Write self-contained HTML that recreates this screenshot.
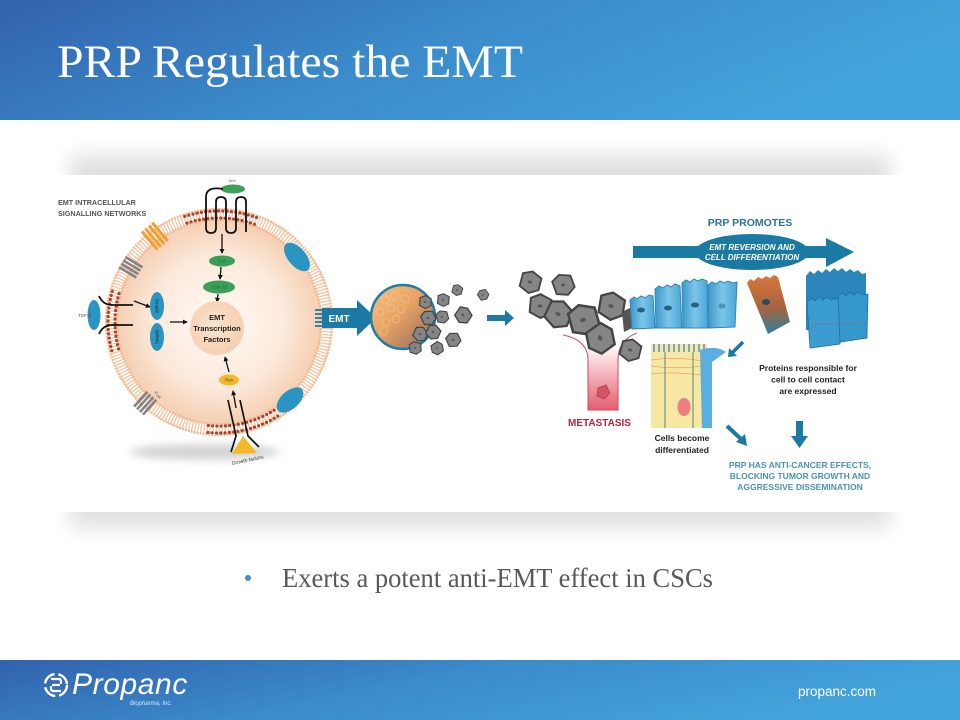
<!DOCTYPE html>
<html><head><meta charset="utf-8"><style>
html,body{margin:0;padding:0;background:#fff;}
body{width:960px;height:720px;overflow:hidden;}
svg{display:block;}
</style></head><body>
<svg width="960" height="720" viewBox="0 0 960 720" xmlns="http://www.w3.org/2000/svg" font-family="Liberation Sans, sans-serif">
<defs>
 <linearGradient id="hg" x1="0" y1="0" x2="1" y2="0.3">
  <stop offset="0" stop-color="#3262ad"/>
  <stop offset="0.5" stop-color="#3b8bcb"/>
  <stop offset="1" stop-color="#43a3db"/>
 </linearGradient>
 <filter id="b10" x="-20%" y="-20%" width="140%" height="140%"><feGaussianBlur stdDeviation="10"/></filter>
 <filter id="b4" x="-30%" y="-100%" width="160%" height="300%"><feGaussianBlur stdDeviation="4"/></filter>
 <radialGradient id="cg" cx="0.5" cy="0.5" r="0.5">
  <stop offset="0" stop-color="#fffaf6"/>
  <stop offset="0.65" stop-color="#fce9db"/>
  <stop offset="1" stop-color="#f5cfb2"/>
 </radialGradient>
 <radialGradient id="ng" cx="0.45" cy="0.45" r="0.55">
  <stop offset="0" stop-color="#fbe3cf"/>
  <stop offset="1" stop-color="#f6d0b1"/>
 </radialGradient>
 <linearGradient id="tg" x1="0" y1="0" x2="1" y2="1">
  <stop offset="0" stop-color="#f6c285"/>
  <stop offset="0.45" stop-color="#e9a262"/>
  <stop offset="0.75" stop-color="#b08263"/>
  <stop offset="1" stop-color="#808080"/>
 </linearGradient>
 <linearGradient id="vg" x1="0" y1="0" x2="0" y2="1">
  <stop offset="0" stop-color="#fff0f2"/>
  <stop offset="1" stop-color="#e25d70"/>
 </linearGradient>
 <linearGradient id="og" x1="0" y1="0" x2="0" y2="1">
  <stop offset="0" stop-color="#d9773a"/>
  <stop offset="0.55" stop-color="#a8643f"/>
  <stop offset="1" stop-color="#2d7fa2"/>
 </linearGradient>
 <linearGradient id="lb" x1="0" y1="0" x2="1" y2="0">
  <stop offset="0" stop-color="#3d98c9"/>
  <stop offset="0.5" stop-color="#7cc6ea"/>
  <stop offset="1" stop-color="#4aa5d4"/>
 </linearGradient>
 <marker id="ah" viewBox="0 0 6 6" markerWidth="5" markerHeight="5" refX="5" refY="3" orient="auto" markerUnits="userSpaceOnUse">
  <path d="M0,0 L6,3 L0,6 z" fill="#111"/>
 </marker>
 <g id="gc">
  <polygon points="-8,-5 -1,-9 8,-6 9,4 2,9 -7,6" fill="#858585" stroke="#444" stroke-width="1.5"/>
  <ellipse cx="0" cy="0" rx="1.8" ry="1.2" fill="#555"/>
 </g>
</defs>

<!-- header -->
<rect x="0" y="0" width="960" height="120" fill="url(#hg)"/>
<text x="57" y="77" font-family="Liberation Serif, serif" font-size="47" fill="#fff" textLength="466" lengthAdjust="spacingAndGlyphs">PRP Regulates the EMT</text>

<!-- panel with shadow -->
<rect x="70" y="155" width="820" height="373" fill="#000" opacity="0.12" filter="url(#b10)"/>
<rect x="38" y="175" width="874" height="337" fill="#fff"/>

<!-- LEFT: cell -->
<text x="58" y="205" font-size="7.2" font-weight="bold" fill="#555">EMT INTRACELLULAR</text>
<text x="58" y="216" font-size="7.2" font-weight="bold" fill="#555">SIGNALLING NETWORKS</text>

<ellipse cx="205" cy="452" rx="75" ry="8" fill="#aaa" opacity="0.5" filter="url(#b4)"/>
<circle cx="219" cy="322" r="102" fill="url(#cg)"/>
<circle cx="219" cy="322" r="107.5" fill="none" stroke="#f4c4a0" stroke-width="11" stroke-dasharray="1.3 1.7"/>
<circle cx="219" cy="322" r="113" fill="none" stroke="#f1b78e" stroke-width="2.2" stroke-dasharray="2 1"/>
<circle cx="219" cy="322" r="102" fill="none" stroke="#f1b78e" stroke-width="2.2" stroke-dasharray="2 1"/>

<!-- brown dots -->
<g fill="none" stroke="#a9432f" stroke-width="3.2" stroke-linecap="round" stroke-dasharray="0 4.3">
 <path d="M186.9,223.1 A104,104 0 0 1 254.6,224.3"/>
 <path d="M184.7,216.4 A111,111 0 0 1 257.0,217.7"/>
 <path d="M118.5,348.9 A104,104 0 0 1 120.1,289.9"/>
 <path d="M111.8,350.7 A111,111 0 0 1 113.4,287.7"/>
 <path d="M274.1,410.2 A104,104 0 0 1 206.3,425.3"/>
 <path d="M277.8,416.1 A111,111 0 0 1 205.5,432.2"/>
</g>

<!-- receptors -->
<g transform="translate(155,236) rotate(50)" fill="#f0a032">
 <rect x="-12" y="-8" width="24" height="3"/><rect x="-12" y="-3.5" width="24" height="3"/>
 <rect x="-12" y="1" width="24" height="3"/><rect x="-12" y="5.5" width="24" height="3"/>
</g>
<g transform="translate(131,267) rotate(31)" fill="#858585">
 <rect x="-10" y="-7" width="20" height="2.6"/><rect x="-10" y="-3" width="20" height="2.6"/>
 <rect x="-10" y="1" width="20" height="2.6"/><rect x="-10" y="5" width="20" height="2.6"/>
</g>
<g transform="translate(145,403) rotate(-48)" fill="#858585">
 <rect x="-10" y="-7" width="20" height="2.6"/><rect x="-10" y="-3" width="20" height="2.6"/>
 <rect x="-10" y="1" width="20" height="2.6"/><rect x="-10" y="5" width="20" height="2.6"/>
</g>
<text x="0" y="0" font-size="4.5" fill="#555" transform="translate(154,393) rotate(50)">Fzd</text>

<ellipse cx="297" cy="257" rx="17" ry="9" fill="#2b95c2" transform="rotate(50 297 257)"/>
<ellipse cx="290" cy="400" rx="16" ry="9" fill="#2b95c2" transform="rotate(-42 290 400)"/>

<!-- Wnt -->
<ellipse cx="233" cy="189" rx="12" ry="4.5" fill="#3c9e58"/>
<text x="232" y="182" font-size="4" fill="#666" text-anchor="middle">Wnt</text>
<path d="M223,189 Q206,186 206,197 L206,228 Q206,233 211,233 Q216,233 216,228 L216,202 Q216,197 221,197 Q226,197 226,202 L226,228 Q226,233 231,233 Q236,233 236,228 L236,202 Q236,197 241,197 Q246,197 246,202 L246,232" fill="none" stroke="#111" stroke-width="1.8"/>
<path d="M222,234 L222,253" stroke="#111" stroke-width="1.3" marker-end="url(#ah)"/>
<ellipse cx="222" cy="261" rx="13" ry="5.5" fill="#3c9e58"/>
<text x="222" y="262.6" font-size="4.5" fill="#173" text-anchor="middle">Dsh</text>
<path d="M221,267 L220,279" stroke="#111" stroke-width="1.3" marker-end="url(#ah)"/>
<ellipse cx="219" cy="287" rx="16" ry="6.5" fill="#3c9e58"/>
<text x="219" y="288.6" font-size="4.5" fill="#173" text-anchor="middle">GSK-3β</text>
<path d="M218,294 L217,302" stroke="#111" stroke-width="1.3" marker-end="url(#ah)"/>

<!-- nucleus -->
<circle cx="217" cy="328" r="27" fill="url(#ng)"/>
<g font-size="7.5" font-weight="bold" fill="#222" text-anchor="middle">
 <text x="217" y="320">EMT</text>
 <text x="217" y="331">Transcription</text>
 <text x="217" y="342">Factors</text>
</g>

<!-- TGF / Smad -->
<ellipse cx="94" cy="315" rx="6.5" ry="15" fill="#2b95c2"/>
<text x="78" y="317" font-size="4.5" fill="#444">TGF-β</text>
<path d="M99,296 Q103,305 112,305 L133,305" fill="none" stroke="#111" stroke-width="1.7"/>
<path d="M99,334 Q103,325 112,325 L133,325" fill="none" stroke="#111" stroke-width="1.7"/>
<path d="M134,301 L150,307" stroke="#111" stroke-width="1.3" marker-end="url(#ah)"/>
<ellipse cx="157" cy="306" rx="7" ry="14" fill="#2b95c2"/>
<ellipse cx="157" cy="337" rx="7" ry="14" fill="#2b95c2"/>
<text x="0" y="0" font-size="4.5" fill="#123" text-anchor="middle" transform="translate(155.5,306) rotate(90)">Smad2</text>
<text x="0" y="0" font-size="4.5" fill="#123" text-anchor="middle" transform="translate(158.5,337) rotate(-90)">Smad3</text>
<path d="M170,322 L187,322" stroke="#111" stroke-width="1.3" marker-end="url(#ah)"/>

<!-- Ras / growth -->
<path d="M229,372 L225,357" stroke="#111" stroke-width="1.3" marker-end="url(#ah)"/>
<ellipse cx="229" cy="380" rx="10" ry="5.5" fill="#f3b928"/>
<text x="229" y="381.6" font-size="4.5" fill="#553" text-anchor="middle">Ras</text>
<path d="M236,408 L233,391" stroke="#111" stroke-width="1.3" marker-end="url(#ah)"/>
<path d="M228,400 L236,436 L231,452" fill="none" stroke="#111" stroke-width="1.7"/>
<path d="M240,400 L248,436 L259,447" fill="none" stroke="#111" stroke-width="1.7"/>
<polygon points="243,436 232,454 257,453" fill="#f3b928"/>
<text x="0" y="0" font-size="5" fill="#333" transform="translate(232,465) rotate(-12)">Growth factors</text>

<!-- EMT arrow -->
<g stroke="#1b7aa3" stroke-width="1.8">
 <line x1="315" y1="310" x2="333" y2="310"/><line x1="315" y1="314" x2="333" y2="314"/>
 <line x1="315" y1="318" x2="333" y2="318"/><line x1="315" y1="322" x2="333" y2="322"/>
 <line x1="315" y1="326" x2="333" y2="326"/>
</g>
<polygon points="322,308 357,308 357,300 376,318 357,336 357,328 322,328" fill="#1b7aa3"/>
<text x="339" y="322" font-size="10" font-weight="bold" fill="#fff" text-anchor="middle">EMT</text>

<!-- tumor -->
<circle cx="403" cy="317" r="32" fill="url(#tg)" stroke="#1d7fa5" stroke-width="2.5"/>
<g fill="none" stroke="#f8d2a4" stroke-width="0.6" opacity="0.8">
 <circle cx="385" cy="300" r="4"/><circle cx="395" cy="296" r="4"/><circle cx="405" cy="299" r="4"/>
 <circle cx="380" cy="312" r="4"/><circle cx="391" cy="308" r="4"/><circle cx="401" cy="309" r="4"/>
 <circle cx="386" cy="322" r="4"/><circle cx="396" cy="319" r="4"/><circle cx="384" cy="331" r="4"/>
</g>
<g>
 <use href="#gc" transform="translate(425,302) rotate(10) scale(0.7)"/>
 <use href="#gc" transform="translate(428,318) rotate(-20) scale(0.8)"/>
 <use href="#gc" transform="translate(420,334) rotate(30) scale(0.8)"/>
 <use href="#gc" transform="translate(415,348) rotate(0) scale(0.7)"/>
 <use href="#gc" transform="translate(457,290) rotate(20) scale(0.6)"/>
 <use href="#gc" transform="translate(483,295) rotate(-30) scale(0.6)"/>
 <use href="#gc" transform="translate(443,300) rotate(10) scale(0.7)"/>
 <use href="#gc" transform="translate(463,315) rotate(40) scale(0.9)"/>
 <use href="#gc" transform="translate(442,317) rotate(-10) scale(0.7)"/>
 <use href="#gc" transform="translate(433,332) rotate(30) scale(0.8)"/>
 <use href="#gc" transform="translate(453,340) rotate(-20) scale(0.8)"/>
 <use href="#gc" transform="translate(437,348) rotate(60) scale(0.7)"/>
</g>
<polygon points="487,315 505,315 505,310 514,318 505,326 505,321 487,321" fill="#1b7aa3"/>

<!-- vessel -->
<rect x="588" y="350" width="30" height="60" fill="url(#vg)"/>
<path d="M563,335 Q588,340 588,360 L588,410 L618,410 L618,360 Q618,340 637,333" fill="none" stroke="#c94a5c" stroke-width="1"/>
<polygon points="598,388 606,385 610,393 604,399 597,396" fill="#d35566" stroke="#b03a4c" stroke-width="0.8"/>
<text x="568" y="426" font-size="10" font-weight="bold" fill="#b5253f">METASTASIS</text>

<!-- gray cluster -->
<g>
 <use href="#gc" transform="translate(530,282) rotate(20) scale(1.2)"/>
 <use href="#gc" transform="translate(563,285) rotate(-15) scale(1.2)"/>
 <use href="#gc" transform="translate(540,306) rotate(10) scale(1.3)"/>
 <use href="#gc" transform="translate(558,314) rotate(30) scale(1.5)"/>
 <use href="#gc" transform="translate(583,320) rotate(-10) scale(1.7)"/>
 <use href="#gc" transform="translate(611,306) rotate(15) scale(1.5)"/>
 <use href="#gc" transform="translate(600,338) rotate(60) scale(1.6)"/>
 <use href="#gc" transform="translate(630,350) rotate(20) scale(1.2)"/>
</g>

<!-- RIGHT -->
<text x="750" y="226" font-size="10.5" font-weight="bold" fill="#2d7396" text-anchor="middle">PRP PROMOTES</text>
<rect x="633" y="246" width="197" height="12" fill="#1b7aa3"/>
<ellipse cx="752" cy="252" rx="57" ry="18" fill="#1b7aa3"/>
<polygon points="826,238 854,252 826,267" fill="#1b7aa3"/>
<text x="752" y="250" font-size="8" font-weight="bold" font-style="italic" fill="#fff" text-anchor="middle">EMT REVERSION AND</text>
<text x="752" y="260" font-size="8" font-weight="bold" font-style="italic" fill="#fff" text-anchor="middle">CELL DIFFERENTIATION</text>

<!-- light blue cells -->
<path d="M622,312 L630,308 L632,328 L624,332 Z" fill="#555"/>
<path d="M630,300 L634,297 637,299 641,296 645,298 649,295 653,296 655,328 L632,329 Z" fill="url(#lb)" stroke="#2f86b8" stroke-width="1"/>
<path d="M655,289 L659,286 663,288 667,285 671,287 675,284 680,286 682,328 L656,328 Z" fill="url(#lb)" stroke="#2f86b8" stroke-width="1"/>
<path d="M682,283 L686,280 690,282 694,279 698,281 702,279 707,281 708,328 L683,328 Z" fill="url(#lb)" stroke="#2f86b8" stroke-width="1"/>
<path d="M708,285 L712,282 716,284 720,281 724,283 728,281 733,283 737,282 735,327 L709,328 Z" fill="url(#lb)" stroke="#2f86b8" stroke-width="1"/>
<g fill="#2a5f80">
 <ellipse cx="641" cy="310" rx="4" ry="2.5"/><ellipse cx="668" cy="308" rx="4" ry="2.5"/>
 <ellipse cx="695" cy="305" rx="4" ry="2.5"/><ellipse cx="722" cy="306" rx="3.5" ry="2.5" opacity="0.5"/>
</g>

<!-- orange cell -->
<path d="M747,283 L750,279 754,281 758,277 762,279 766,276 770,278 774,275 778,277 790,322 L768,334 Z" fill="url(#og)"/>
<ellipse cx="766" cy="302" rx="4" ry="3" fill="#234f66"/>

<!-- dark blue 3D cells -->
<path d="M806,276 L810,271 814,274 818,270 822,273 826,269 830,272 834,268 838,271 842,268 846,272 850,269 854,272 858,270 862,274 866,273 866,330 L806,330 Z" fill="#2a86bb"/>
<path d="M807,302 L811,298 815,301 819,297 823,300 827,297 831,300 836,298 840,301 840,344 L810,348 Z" fill="#3a9ccf" stroke="#1f6f9f" stroke-width="0.8"/>
<path d="M838,297 L842,293 846,296 850,292 854,295 858,292 863,295 868,294 867,338 L840,342 Z" fill="#3597cb" stroke="#1f6f9f" stroke-width="0.8"/>
<path d="M812,326 Q825,322 838,325 Q852,322 866,324" fill="none" stroke="#777" stroke-width="1.2" stroke-dasharray="2 1.5"/>

<!-- yellow differentiated cell -->
<rect x="651" y="344" width="56" height="84" fill="#f6e7a3"/>
<g stroke="#4a8fc8" stroke-width="1.4">
 <line x1="654" y1="344" x2="654" y2="352"/><line x1="659" y1="344" x2="659" y2="352"/><line x1="664" y1="344" x2="664" y2="352"/>
 <line x1="669" y1="344" x2="669" y2="352"/><line x1="674" y1="344" x2="674" y2="352"/><line x1="679" y1="344" x2="679" y2="352"/>
 <line x1="684" y1="344" x2="684" y2="352"/><line x1="689" y1="344" x2="689" y2="352"/><line x1="694" y1="344" x2="694" y2="352"/>
 <line x1="699" y1="344" x2="699" y2="352"/><line x1="704" y1="344" x2="704" y2="352"/>
</g>
<g stroke="#f0a060" stroke-width="0.7" fill="none">
 <path d="M651,360 Q680,356 707,362"/><path d="M651,366 Q680,370 707,365"/><path d="M651,374 Q675,371 707,376"/>
</g>
<g stroke="#6a9a8a" stroke-width="1.2">
 <line x1="665" y1="352" x2="665" y2="428"/><line x1="693" y1="352" x2="693" y2="428"/>
</g>
<ellipse cx="684" cy="407" rx="6.5" ry="9" fill="#ee7d84"/>
<path d="M700,350 Q716,345 726,352 L712,362 L712,428 L702,428 Z" fill="#5aaee0"/>
<path d="M743,342 L732,353" stroke="#1b7aa3" stroke-width="3.5"/>
<polygon points="728,357 729,348 737,356" fill="#1b7aa3"/>

<g font-size="8.5" font-weight="bold" fill="#222" text-anchor="middle">
 <text x="808" y="371">Proteins responsible for</text>
 <text x="808" y="382.5">cell to cell contact</text>
 <text x="808" y="394">are expressed</text>
 <text x="682" y="441">Cells become</text>
 <text x="682" y="453">differentiated</text>
</g>

<path d="M727,426 L741,439" stroke="#1b7aa3" stroke-width="4"/>
<polygon points="736,442 747,446 745,434" fill="#1b7aa3"/>
<rect x="796" y="421" width="7" height="17" fill="#1b7aa3"/>
<polygon points="791,436 808,436 799.5,448" fill="#1b7aa3"/>

<g font-size="8.5" font-weight="bold" fill="#4b93b5" text-anchor="middle">
 <text x="800" y="468">PRP HAS ANTI-CANCER EFFECTS,</text>
 <text x="800" y="479">BLOCKING TUMOR GROWTH AND</text>
 <text x="800" y="490">AGGRESSIVE DISSEMINATION</text>
</g>

<!-- bullet -->
<circle cx="248" cy="578" r="3" fill="#3d8fd0"/>
<text x="282" y="587" font-family="Liberation Serif, serif" font-size="27" fill="#595959" textLength="431" lengthAdjust="spacingAndGlyphs">Exerts a potent anti-EMT effect in CSCs</text>

<!-- footer -->
<rect x="0" y="660" width="960" height="60" fill="url(#hg)"/>
<circle cx="56" cy="685" r="11" fill="none" stroke="#fff" stroke-width="2.4" stroke-dasharray="14 4 14 4"/>
<path d="M51,679 L59,679 Q61,679 61,682 L61,684 M61,691 L53,691 Q51,691 51,688 L51,686 M52,685 L60,685" fill="none" stroke="#fff" stroke-width="2.2"/>
<text x="72" y="694" font-size="30" font-style="italic" fill="#fff" letter-spacing="0.6">Propanc</text>
<text x="130" y="705" font-size="6" font-style="italic" fill="#dce8f5">Biopharma, Inc.</text>
<text x="798" y="696" font-size="13.5" fill="#fff">propanc.com</text>
</svg>
</body></html>
